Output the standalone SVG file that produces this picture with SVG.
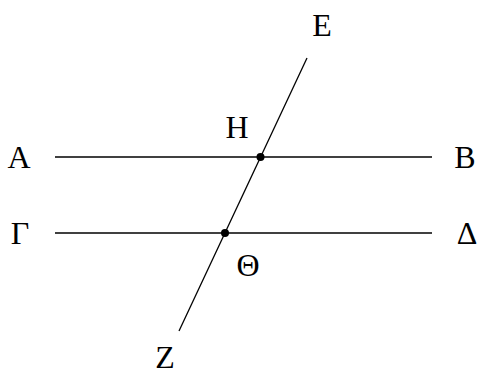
<svg xmlns="http://www.w3.org/2000/svg" width="478" height="376" viewBox="0 0 478 376">
<style>
.l{stroke:#000;stroke-width:1.3;fill:none}
.p{fill:#000}
</style>
<rect width="478" height="376" fill="#fff"/>
<g id="connectors">
<line class="l" x1="55" y1="157" x2="432" y2="157"/>
<line class="l" x1="55" y1="233" x2="432" y2="233"/>
<line class="l" x1="307" y1="58" x2="179" y2="331"/>
</g>
<g font-family="Liberation Serif, DejaVu Serif, serif" font-size="32" fill="#000" text-anchor="middle">
<g id="H"><circle class="p" cx="260.5" cy="157" r="4"/><text x="237" y="138">Η</text></g>
<g id="Theta"><circle class="p" cx="225" cy="233" r="4"/><text x="248" y="276">Θ</text></g>
<g id="A"><text x="19" y="168">Α</text></g>
<g id="B"><text x="465" y="168">Β</text></g>
<g id="Gamma"><text x="20" y="244">Γ</text></g>
<g id="Delta"><text x="467" y="244">Δ</text></g>
<g id="E"><text x="322" y="36">Ε</text></g>
<g id="Z"><text x="165" y="368">Ζ</text></g>
</g>
</svg>
